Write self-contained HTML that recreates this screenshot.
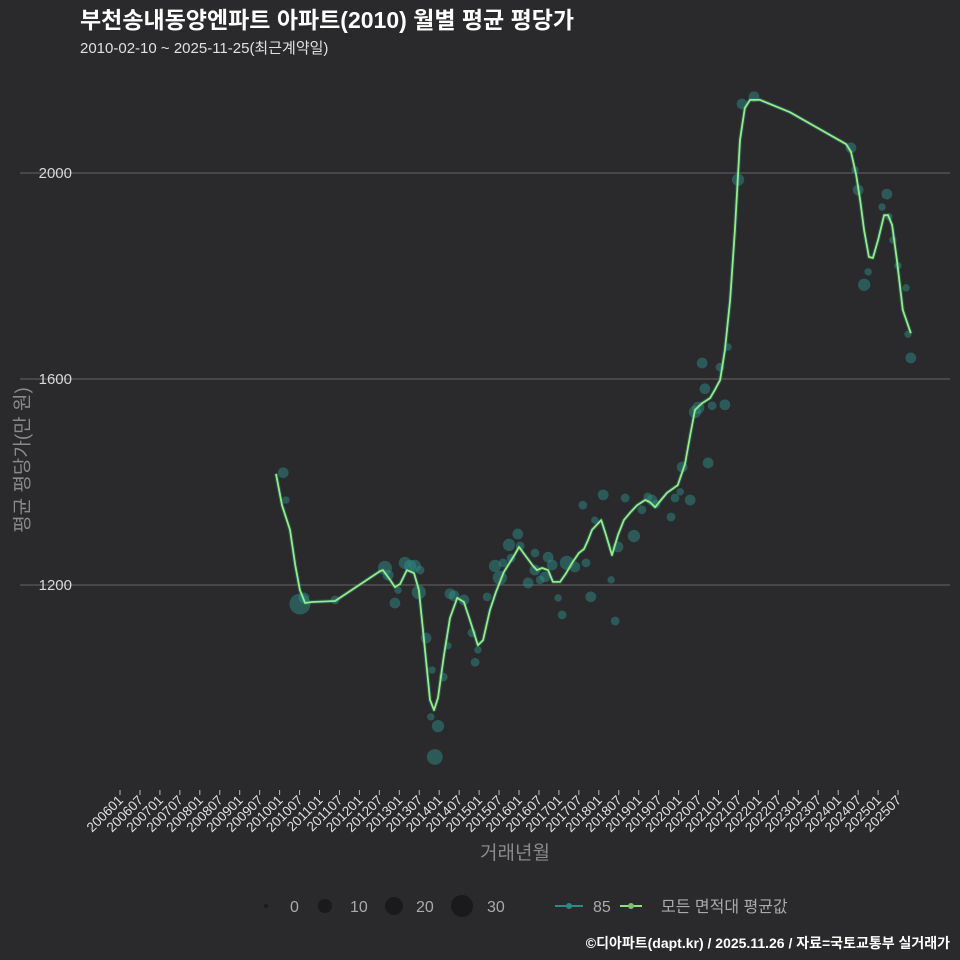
<!DOCTYPE html>
<html><head><meta charset="utf-8"><style>
body{margin:0;background:#2a292b;}
svg{display:block;font-family:"Liberation Sans","Noto Sans CJK KR",sans-serif;}
#ytitle{position:absolute;left:21px;top:460px;transform:translate(-50%,-50%) rotate(-90deg);white-space:nowrap;color:#8a8a8a;font-size:19px;font-family:"Liberation Sans","Noto Sans CJK KR",sans-serif;}
</style></head><body>
<div style="position:relative;width:960px;height:960px;">
<svg id="c" width="960" height="960" viewBox="0 0 960 960">
<rect width="960" height="960" fill="#2a292b"/>
<text x="80" y="28" fill="#fff" font-size="23" font-weight="bold">부천송내동양엔파트 아파트(2010) 월별 평균 평당가</text>
<text x="80" y="53" fill="#e0e0e0" font-size="15">2010-02-10 ~ 2025-11-25(최근계약일)</text>
<text x="515" y="859" text-anchor="middle" fill="#8a8a8a" font-size="19">거래년월</text>
<g id="grid"></g><g id="xt"></g><g id="pts"></g><g id="ln"></g>
<g font-size="16" fill="#aaa">
<circle cx="266" cy="906" r="2" fill="#1a191b"/><text x="290" y="912">0</text>
<circle cx="325" cy="906" r="7" fill="#1a191b"/><text x="350" y="912">10</text>
<circle cx="394" cy="906" r="9" fill="#1a191b"/><text x="416" y="912">20</text>
<circle cx="462" cy="906" r="11" fill="#1a191b"/><text x="487" y="912">30</text>
<line x1="555" y1="906" x2="583" y2="906" stroke="#2a8a85" stroke-width="2"/><circle cx="569" cy="906" r="3" fill="#2a8a85"/><text x="593" y="912">85</text>
<line x1="620" y1="906" x2="642" y2="906" stroke="#90e07c" stroke-width="2"/><circle cx="631" cy="906" r="3" fill="#7cc070"/><text x="661" y="912">모든 면적대 평균값</text>
</g>
<text x="950" y="948" text-anchor="end" fill="#fff" font-size="14" font-weight="bold">©디아파트(dapt.kr) / 2025.11.26 / 자료=국토교통부 실거래가</text>
</svg>
<div id="ytitle">평균 평당가(만 원)</div>
</div>
<script>
const yTicks=[1200,1600,2000];
const lineYears=[2009.91,2010.06,2010.26,2010.39,2010.51,2010.64,2010.81,2011.39,2011.51,2012.52,2012.59,2012.77,2012.89,2013.02,2013.19,2013.37,2013.49,2013.62,2013.77,2013.87,2013.97,2014.12,2014.27,2014.45,2014.62,2014.77,2014.97,2015.10,2015.27,2015.42,2015.62,2015.70,2015.90,2016.00,2016.15,2016.35,2016.45,2016.58,2016.73,2016.85,2017.03,2017.18,2017.33,2017.50,2017.63,2017.73,2017.83,2018.06,2018.18,2018.33,2018.48,2018.63,2018.78,2018.96,2019.16,2019.28,2019.41,2019.56,2019.71,2019.98,2020.09,2020.16,2020.29,2020.41,2020.59,2020.79,2020.91,2021.04,2021.16,2021.29,2021.41,2021.54,2021.66,2021.79,2022.04,2022.79,2024.20,2024.32,2024.45,2024.55,2024.65,2024.77,2024.87,2025.00,2025.15,2025.25,2025.35,2025.47,2025.62,2025.82];
const lineVals=[1416,1355,1307,1239,1190,1165,1167,1169,1175,1227,1229,1210,1196,1202,1229,1223,1190,1093,977,957,981,1064,1136,1175,1167,1132,1083,1093,1151,1186,1225,1235,1260,1274,1258,1237,1229,1233,1229,1206,1206,1223,1243,1262,1270,1287,1307,1326,1297,1258,1297,1326,1340,1355,1365,1361,1351,1365,1379,1394,1419,1435,1491,1540,1553,1563,1579,1598,1656,1753,1889,2064,2126,2142,2142,2118,2056,2041,1996,1948,1889,1837,1835,1870,1918,1918,1899,1831,1734,1689];
const ptYears=[2010.09,2010.16,2010.51,2010.61,2011.39,2012.64,2012.72,2012.89,2012.97,2013.14,2013.27,2013.39,2013.52,2013.49,2013.67,2013.82,2013.79,2013.97,2013.89,2014.10,2014.22,2014.27,2014.37,2014.62,2014.82,2014.90,2014.97,2015.20,2015.40,2015.52,2015.60,2015.75,2015.80,2015.97,2016.03,2016.23,2016.40,2016.40,2016.53,2016.65,2016.73,2016.83,2016.98,2017.08,2017.20,2017.40,2017.60,2017.68,2017.80,2017.90,2018.11,2018.31,2018.41,2018.48,2018.66,2018.88,2019.08,2019.23,2019.33,2019.43,2019.81,2019.91,2020.04,2020.09,2020.29,2020.41,2020.49,2020.59,2020.66,2020.74,2020.84,2021.04,2021.16,2021.24,2021.49,2021.59,2021.89,2024.32,2024.42,2024.50,2024.65,2024.75,2025.10,2025.22,2025.27,2025.37,2025.50,2025.70,2025.75,2025.82];
const ptVals=[1418,1365,1163,1175,1171,1233,1219,1165,1190,1243,1237,1237,1229,1186,1097,1035,944,926,866,1021,1082,1183,1179,1171,1107,1050,1074,1177,1237,1214,1243,1278,1252,1299,1276,1204,1229,1262,1210,1216,1254,1239,1175,1142,1243,1235,1355,1243,1177,1326,1375,1210,1130,1274,1369,1295,1346,1371,1365,1357,1332,1369,1381,1429,1365,1536,1544,1631,1581,1437,1548,1623,1550,1662,1987,2134,2148,2049,2006,1967,1783,1808,1934,1959,1915,1870,1820,1777,1687,1641];
const ptCounts=[4,1,25,4,2,9,4,4,1,6,6,6,2,9,4,1,1,6,12,2,1,4,4,4,2,2,1,2,6,9,2,6,2,4,2,4,4,2,2,4,4,4,1,2,9,4,2,2,4,1,4,1,2,4,2,6,2,2,4,2,2,2,1,4,4,6,6,4,4,4,2,2,4,1,6,4,4,4,1,4,6,1,1,4,1,1,1,1,1,4];
const xTickLabels=[];for(let y=2006;y<=2025;y++){xTickLabels.push(y+'01');xTickLabels.push(y+'07');}
const NS='http://www.w3.org/2000/svg';
const X=yr=>120+(yr-2006)*39.9;
const Y=v=>585-(v-1200)*0.515;
const R=c=>2+Math.sqrt(c)*1.7;
function mk(t,a,p){const e=document.createElementNS(NS,t);for(const k in a)e.setAttribute(k,a[k]);p.appendChild(e);return e;}
const grid=document.getElementById('grid');
yTicks.forEach(v=>{
 const l=mk('line',{x1:20,x2:950,y1:Y(v),y2:Y(v),stroke:'#5a595b','stroke-width':1.3},grid);
 
 
 const t=mk('text',{x:72,y:Y(v)+5,'text-anchor':'end',fill:'#d8d8d8','font-size':15},grid);
 t.textContent=v;
 
 
});
const xt=document.getElementById('xt');
xTickLabels.forEach(s=>{
 const yr=+s.slice(0,4)+(+s.slice(4)-1)/12;const x=X(yr);
 const l=mk('line',{x1:x,x2:x,y1:790,y2:795,stroke:'#bbb','stroke-width':1},xt);
 
 
 const t=mk('text',{x:x+4,y:801,'text-anchor':'end',fill:'#e0e0e0','font-size':13.5,transform:`rotate(-45 ${x+4} 801)`},xt);
 t.textContent=s;
 
 
});
const pts=document.getElementById('pts');
ptYears.forEach((yr,i)=>{
 const c=mk('circle',{cx:X(yr),cy:Y(ptVals[i]),r:R(ptCounts[i]),fill:'#2e8c86','fill-opacity':0.5},pts);
 
 
});
const ln=document.getElementById('ln');
const d=lineYears.map((yr,i)=>X(yr).toFixed(1)+','+Y(lineVals[i]).toFixed(1)).join(' ');
const g=mk('polyline',{points:d,fill:'none',stroke:'#2e8c86','stroke-width':4,'stroke-opacity':0.4,'stroke-linejoin':'round'},ln);


const p=mk('polyline',{points:d,fill:'none',stroke:'#98ec84','stroke-width':1.8,'stroke-linejoin':'round'},ln);


</script>
</body></html>
